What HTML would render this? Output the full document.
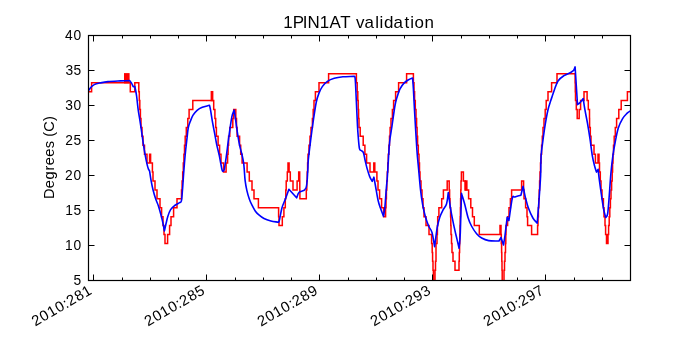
<!DOCTYPE html>
<html><head><meta charset="utf-8"><style>
html,body{margin:0;padding:0;background:#fff;width:700px;height:350px;overflow:hidden}
svg{display:block;will-change:transform}
text{font-family:"Liberation Sans",sans-serif;fill:#000}
.tl{font-size:15.00px}
.xl{font-size:16.00px}
</style></head><body>
<svg width="700" height="350" viewBox="0 0 700 350">
<rect width="700" height="350" fill="#fff"/>
<defs><clipPath id="c"><rect x="88" y="35" width="542" height="245"/></clipPath></defs>
<g clip-path="url(#c)">
<path d="M88.0 91.66H91.6V82.73H130.3V91.66H134.8V82.73H138.8V91.66H139.3V100.59H139.8V109.52H140.4V118.45H141.0V127.38H142.0V136.31H143.0V145.24H144.5V154.17H147.0V163.10H149.6V154.17H150.6V163.10H152.4V172.03H153.0V180.96H155.0V189.89H157.0V198.82H160.0V207.75H161.6V216.68H163.0V225.61H164.0V234.54H165.0V243.47H167.6V234.54H169.6V225.61H171.0V216.68H173.6V207.75H177.0V198.82H181.5V189.89H182.1V180.96H182.7V172.03H183.3V163.10H183.9V154.17H184.5V145.24H185.2V136.31H186.3V127.38H187.8V118.45H189.1V109.52H192.8V100.59H213.7V109.52H214.9V118.45H215.7V127.38H216.4V136.31H218.1V145.24H219.6V154.17H221.0V163.10H223.6V172.03H226.1V163.10H227.6V154.17H228.1V145.24H228.6V136.31H229.8V127.38H232.8V118.45H233.7V109.52H235.8V118.45H236.5V127.38H237.1V136.31H239.6V145.24H240.7V154.17H242.1V163.10H247.1V172.03H249.3V180.96H252.0V189.89H254.0V198.82H258.4V207.75H278.6V216.68H279.0V225.61H282.3V216.68H283.9V207.75H285.3V198.82H285.8V189.89H286.2V180.96H287.3V172.03H288.0V163.10H289.1V172.03H290.3V180.96H293.0V189.89H297.1V180.96H298.7V172.03H299.7V180.96H299.8V189.89H299.9V198.82H306.3V189.89H306.8V180.96H307.2V172.03H307.6V163.10H308.0V154.17H309.0V145.24H310.0V136.31H311.0V127.38H312.4V118.45H313.2V109.52H314.0V100.59H315.4V91.66H319.0V82.73H328.6V73.80H356.4V82.73H357.2V91.66H357.8V100.59H358.2V109.52H358.6V118.45H359.0V127.38H360.2V136.31H363.2V145.24H364.9V154.17H366.6V163.10H370.0V172.03H373.8V163.10H374.8V172.03H376.9V180.96H378.0V189.89H379.6V198.82H381.6V207.75H383.6V216.68H385.6V207.75H386.0V198.82H386.4V189.89H386.8V180.96H387.3V172.03H387.8V163.10H388.3V154.17H388.9V145.24H389.5V136.31H390.1V127.38H391.0V118.45H392.4V109.52H393.6V100.59H395.6V91.66H398.6V82.73H406.6V73.80H413.4V82.73H414.0V91.66H414.6V100.59H415.3V109.52H416.0V118.45H416.6V127.38H417.1V136.31H417.6V145.24H418.3V154.17H419.0V163.10H419.5V172.03H420.0V180.96H421.0V189.89H422.0V198.82H423.0V207.75H424.0V216.68H426.0V225.61H429.0V234.54H431.6V243.47H432.2V252.40H432.6V261.33H433.0V270.26H433.4V288.12H435.0V270.26H435.5V261.33H436.0V243.47H437.0V234.54H437.4V225.61H437.7V216.68H438.9V207.75H441.7V198.82H443.4V189.89H447.2V180.96H449.2V189.89H449.6V198.82H450.0V207.75H450.6V216.68H450.8V225.61H451.0V234.54H451.5V243.47H452.0V252.40H453.0V261.33H455.0V270.26H459.0V261.33H459.3V252.40H459.6V243.47H459.8V234.54H460.0V225.61H460.2V216.68H460.4V207.75H460.6V198.82H460.8V189.89H461.0V180.96H461.4V172.03H463.4V180.96H465.2V189.89H468.6V198.82H470.8V207.75H472.5V216.68H474.3V225.61H479.3V234.54H500.0V225.61H501.0V234.54H501.3V243.47H501.6V252.40H501.8V261.33H502.0V270.26H502.2V288.12H504.0V270.26H504.5V261.33H505.0V252.40H505.5V243.47H505.8V234.54H506.0V225.61H507.6V216.68H509.0V207.75H510.4V198.82H511.6V189.89H521.6V180.96H523.6V189.89H524.0V198.82H525.6V207.75H527.0V216.68H527.6V225.61H531.6V234.54H537.6V225.61H538.0V216.68H538.4V207.75H538.8V198.82H539.2V189.89H539.6V180.96H540.0V172.03H540.5V163.10H541.0V154.17H541.6V145.24H542.3V136.31H543.0V127.38H544.0V118.45H545.2V109.52H546.2V100.59H548.0V91.66H551.6V82.73H557.0V73.80H575.1V82.73H575.3V91.66H575.5V100.59H576.3V109.52H577.2V118.45H579.2V109.52H580.6V100.59H584.0V91.66H587.1V100.59H588.3V109.52H589.5V118.45H589.6V127.38H590.3V136.31H591.0V145.24H594.0V154.17H595.4V163.10H598.0V154.17H599.0V163.10H599.5V172.03H600.3V180.96H601.0V189.89H602.0V198.82H603.4V207.75H604.0V216.68H605.0V225.61H605.6V234.54H606.5V243.47H608.0V234.54H608.6V225.61H609.2V216.68H609.8V207.75H610.4V198.82H611.0V189.89H611.6V180.96H612.2V172.03H612.6V163.10H613.0V154.17H613.5V145.24H614.2V136.31H615.3V127.38H616.6V118.45H618.8V109.52H621.2V100.59H627.4V91.66H632.0" fill="none" stroke="#f00" stroke-width="1.5" stroke-linejoin="miter"/>
<rect x="124.0" y="73.10" width="5.6" height="10.33" fill="#f00"/><rect x="210.6" y="90.96" width="2.8" height="10.33" fill="#f00"/><rect x="464.6" y="180.26" width="3.0" height="10.33" fill="#f00"/>
<path d="M87.00 92.00C87.53 91.50 87.93 91.30 88.60 90.50C89.27 89.70 90.05 88.18 91.00 87.20C91.95 86.22 92.80 85.30 94.30 84.60C95.80 83.90 97.72 83.50 100.00 83.00C102.28 82.50 104.62 81.95 108.00 81.60C111.38 81.25 116.68 81.07 120.30 80.90C123.92 80.73 126.57 80.70 129.70 80.60C130.30 81.47 130.92 82.20 131.50 83.20C132.08 84.20 132.63 85.47 133.20 86.60C133.77 86.60 134.33 86.60 134.90 86.60C135.47 89.73 136.05 92.10 136.60 96.00C137.15 99.90 137.65 105.95 138.20 110.00C138.75 114.05 139.32 116.58 139.90 120.30C140.48 124.02 141.12 128.30 141.70 132.30C142.28 136.30 142.83 140.58 143.40 144.30C143.97 148.02 144.47 151.17 145.10 154.60C145.73 158.03 146.62 162.42 147.20 164.90C147.78 167.38 148.20 168.45 148.60 169.50C149.00 170.55 149.20 169.43 149.60 171.20C150.00 172.97 150.43 177.02 151.00 180.10C151.57 183.18 152.20 186.50 153.00 189.70C153.80 192.90 154.88 196.55 155.80 199.30C156.72 202.05 157.63 203.57 158.50 206.20C159.37 208.83 160.25 212.25 161.00 215.10C161.75 217.95 162.43 220.67 163.00 223.30C163.57 225.93 163.93 228.37 164.40 230.90C164.87 228.83 165.23 227.10 165.80 224.70C166.37 222.30 167.00 219.02 167.80 216.50C168.60 213.98 169.45 211.43 170.60 209.60C171.75 207.77 173.22 206.65 174.70 205.50C176.18 204.35 178.38 203.47 179.50 202.70C180.62 201.93 180.90 203.07 181.40 200.90C181.90 198.73 182.13 194.18 182.50 189.70C182.87 185.22 183.15 179.85 183.60 174.00C184.05 168.15 184.65 160.40 185.20 154.60C185.75 148.80 186.38 143.72 186.90 139.20C187.42 134.68 187.73 130.47 188.30 127.50C188.87 124.53 189.53 123.42 190.30 121.40C191.07 119.38 191.77 117.25 192.90 115.40C194.03 113.55 195.53 111.65 197.10 110.30C198.67 108.95 200.23 108.13 202.30 107.30C204.37 106.47 207.10 105.97 209.50 105.30C209.87 106.97 210.08 107.40 210.60 110.30C211.12 113.20 211.92 118.80 212.60 122.70C213.28 126.60 214.02 130.05 214.70 133.70C215.38 137.35 215.93 140.93 216.70 144.60C217.47 148.27 218.43 151.58 219.30 155.70C220.17 159.82 221.30 166.68 221.90 169.30C222.50 171.92 222.57 170.70 222.90 171.40C223.37 170.70 223.72 171.92 224.30 169.30C224.88 166.68 225.68 160.82 226.40 155.70C227.12 150.58 227.70 145.02 228.60 138.60C229.50 132.18 230.87 121.95 231.80 117.20C232.73 112.45 233.40 112.47 234.20 110.10C234.80 114.30 235.37 118.32 236.00 122.70C236.63 127.08 237.40 132.63 238.00 136.40C238.60 140.17 238.95 142.32 239.60 145.30C240.25 148.28 241.23 151.37 241.90 154.30C242.57 157.23 243.20 160.28 243.60 162.90C244.00 165.52 244.05 167.10 244.30 170.00C244.55 172.90 244.67 176.87 245.10 180.30C245.53 183.73 246.18 187.45 246.90 190.60C247.62 193.75 248.55 196.77 249.40 199.20C250.25 201.63 251.00 203.20 252.00 205.20C253.00 207.20 254.25 209.58 255.40 211.20C256.55 212.82 257.47 213.68 258.90 214.90C260.33 216.12 262.00 217.50 264.00 218.50C266.00 219.50 268.47 220.27 270.90 220.90C273.33 221.53 276.03 221.83 278.60 222.30C278.90 221.43 278.93 222.13 279.50 219.70C280.07 217.27 281.08 210.98 282.00 207.70C282.92 204.42 283.85 203.08 285.00 200.00C286.15 196.92 287.60 192.80 288.90 189.20C291.47 192.07 294.03 194.93 296.60 197.80C297.47 195.97 297.63 193.93 299.20 192.30C300.77 190.67 304.57 191.72 306.00 188.00C307.43 184.28 307.42 174.67 307.80 170.00C308.18 165.33 307.83 164.90 308.30 160.00C308.77 155.10 309.75 147.27 310.60 140.60C311.45 133.93 312.45 126.43 313.40 120.00C314.35 113.57 315.38 106.43 316.30 102.00C317.22 97.57 317.90 95.97 318.90 93.40C319.90 90.83 320.88 88.60 322.30 86.60C323.72 84.60 325.40 82.78 327.40 81.40C329.40 80.02 331.72 79.07 334.30 78.30C336.88 77.53 339.62 77.13 342.90 76.80C346.18 76.47 350.30 76.47 354.00 76.30C354.40 77.17 354.82 74.90 355.20 78.90C355.58 82.90 355.92 92.45 356.30 100.30C356.68 108.15 357.18 120.00 357.50 126.00C357.82 132.00 357.88 132.58 358.20 136.30C358.52 140.02 358.92 145.93 359.40 148.30C359.88 150.67 360.43 149.78 361.10 150.50C361.77 151.22 362.73 150.97 363.40 152.60C364.07 154.23 364.47 157.58 365.10 160.30C365.73 163.02 366.43 166.18 367.20 168.90C367.97 171.62 368.87 174.52 369.70 176.60C370.53 178.68 371.37 179.80 372.20 181.40C372.77 180.00 373.33 178.60 373.90 177.20C374.43 180.13 374.82 182.20 375.50 186.00C376.18 189.80 377.15 196.23 378.00 200.00C378.85 203.77 379.68 205.88 380.60 208.60C381.52 211.32 382.53 213.73 383.50 216.30C383.97 213.17 384.45 211.33 384.90 206.90C385.35 202.47 385.78 194.85 386.20 189.70C386.62 184.55 386.85 183.75 387.40 176.00C387.95 168.25 388.73 151.53 389.50 143.20C390.27 134.87 391.10 132.20 392.00 126.00C392.90 119.80 394.05 110.85 394.90 106.00C395.75 101.15 396.25 99.75 397.10 96.90C397.95 94.05 398.85 91.20 400.00 88.90C401.15 86.60 402.57 84.63 404.00 83.10C405.43 81.57 407.17 80.55 408.60 79.70C410.03 78.85 411.27 78.57 412.60 78.00C412.87 81.63 413.08 83.57 413.40 88.90C413.72 94.23 413.92 99.82 414.50 110.00C415.08 120.18 416.22 140.18 416.90 150.00C417.58 159.82 418.00 162.28 418.60 168.90C419.20 175.52 419.83 183.80 420.50 189.70C421.17 195.60 421.82 199.92 422.60 204.30C423.38 208.68 424.20 212.38 425.20 216.00C426.20 219.62 427.47 223.25 428.60 226.00C429.73 228.75 431.00 229.07 432.00 232.50C433.00 235.93 433.73 241.90 434.60 246.60C435.47 240.30 436.35 232.57 437.20 227.70C438.05 222.83 438.70 220.40 439.70 217.40C440.70 214.40 442.05 211.98 443.20 209.70C444.35 207.42 445.75 206.55 446.60 203.70C447.45 200.85 447.73 196.30 448.30 192.60C449.17 198.60 449.90 204.75 450.90 210.60C451.90 216.45 453.30 222.98 454.30 227.70C455.30 232.42 456.10 235.47 456.90 238.90C457.70 242.33 458.37 245.17 459.10 248.30C459.50 243.17 459.90 242.05 460.30 232.90C460.70 223.75 461.10 206.57 461.50 193.40C462.53 196.83 463.52 199.70 464.60 203.70C465.68 207.70 466.85 213.68 468.00 217.40C469.15 221.12 470.07 223.28 471.50 226.00C472.93 228.72 474.90 231.70 476.60 233.70C478.30 235.70 479.70 236.85 481.70 238.00C483.70 239.15 485.72 240.10 488.60 240.60C491.48 241.10 495.53 240.87 499.00 241.00C499.67 239.83 500.33 238.67 501.00 237.50C501.83 240.00 502.67 242.50 503.50 245.00C503.97 242.00 504.28 240.63 504.90 236.00C505.52 231.37 506.43 223.47 507.20 217.20C507.77 218.33 508.33 219.47 508.90 220.60C510.03 213.17 511.30 202.25 512.30 198.30C513.30 194.35 513.47 197.42 514.90 196.90C516.33 196.38 518.90 195.77 520.90 195.20C521.63 192.23 522.37 189.27 523.10 186.30C523.80 189.73 524.28 192.88 525.20 196.60C526.12 200.32 527.32 205.03 528.60 208.60C529.88 212.17 531.47 215.57 532.90 218.00C534.33 220.43 535.77 221.47 537.20 223.20C537.77 216.03 538.33 209.57 538.90 201.70C539.47 193.83 540.23 183.62 540.60 176.00C540.97 168.38 540.72 161.90 541.10 156.00C541.48 150.10 542.18 146.03 542.90 140.60C543.62 135.17 544.55 128.55 545.40 123.40C546.25 118.25 547.13 113.42 548.00 109.70C548.87 105.98 549.88 103.38 550.60 101.10C551.32 98.82 551.73 97.68 552.30 96.00C552.87 94.32 553.05 93.50 554.00 91.00C554.95 88.50 556.33 83.57 558.00 81.00C559.67 78.43 561.82 77.05 564.00 75.60C566.18 74.15 569.48 73.18 571.10 72.30C572.72 71.42 573.03 71.20 573.70 70.30C574.37 69.40 574.63 68.03 575.10 66.90C575.50 73.17 575.90 79.42 576.30 85.70C576.70 91.98 577.10 98.30 577.50 104.60C578.23 104.03 578.75 103.90 579.70 102.90C580.65 101.90 582.03 100.03 583.20 98.60C583.77 102.30 584.18 105.57 584.90 109.70C585.62 113.83 586.65 118.53 587.50 123.40C588.35 128.27 589.20 133.53 590.00 138.90C590.80 144.27 591.57 151.22 592.30 155.60C593.03 159.98 593.70 162.45 594.40 165.20C595.10 167.95 595.80 169.80 596.50 172.10C597.03 171.17 597.57 170.23 598.10 169.30C598.47 172.50 598.67 174.78 599.20 178.90C599.73 183.02 600.57 188.98 601.30 194.00C602.03 199.02 602.87 205.08 603.60 209.00C604.33 212.92 605.00 214.67 605.70 217.50C606.33 216.33 607.05 217.08 607.60 214.00C608.15 210.92 608.45 205.77 609.00 199.00C609.55 192.23 610.25 180.63 610.90 173.40C611.55 166.17 612.18 160.83 612.90 155.60C613.62 150.37 614.30 146.60 615.20 142.00C616.10 137.40 617.07 131.90 618.30 128.00C619.53 124.10 621.17 121.03 622.60 118.60C624.03 116.17 625.67 114.63 626.90 113.40C628.13 112.17 629.15 111.68 630.00 111.20C630.85 110.72 631.33 110.73 632.00 110.50" fill="none" stroke="#00f" stroke-width="1.6" stroke-linejoin="round"/>
</g>
<path d="M88.5 280.5h6M630.5 280.5h-6M88.5 245.5h6M630.5 245.5h-6M88.5 210.5h6M630.5 210.5h-6M88.5 175.5h6M630.5 175.5h-6M88.5 140.5h6M630.5 140.5h-6M88.5 105.5h6M630.5 105.5h-6M88.5 70.5h6M630.5 70.5h-6M88.5 35.5h6M630.5 35.5h-6M93.5 280.5v-6M93.5 35.5v6M122.5 280.5v-3M122.5 35.5v3M150.5 280.5v-3M150.5 35.5v3M178.5 280.5v-3M178.5 35.5v3M206.5 280.5v-6M206.5 35.5v6M235.5 280.5v-3M235.5 35.5v3M263.5 280.5v-3M263.5 35.5v3M291.5 280.5v-3M291.5 35.5v3M319.5 280.5v-6M319.5 35.5v6M348.5 280.5v-3M348.5 35.5v3M376.5 280.5v-3M376.5 35.5v3M404.5 280.5v-3M404.5 35.5v3M432.5 280.5v-6M432.5 35.5v6M461.5 280.5v-3M461.5 35.5v3M489.5 280.5v-3M489.5 35.5v3M517.5 280.5v-3M517.5 35.5v3M545.5 280.5v-6M545.5 35.5v6M574.5 280.5v-3M574.5 35.5v3M602.5 280.5v-3M602.5 35.5v3" stroke="#000" stroke-width="1" fill="none"/>
<rect x="88.5" y="35.5" width="542.0" height="245.0" fill="none" stroke="#000" stroke-width="1.2"/>
<text x="283.30 292.63 302.85 307.42 319.82 329.53 340.37 350.43 356.01 364.57 375.13 379.58 383.95 393.42 404.38 410.26 414.54 424.54" y="27.60" style="font-size:16.95px">1PIN1AT validation</text>
<text x="73.61" y="284.90" style="font-size:13.80px">5</text><text x="65.04 73.39" y="249.90" style="font-size:13.80px">10</text><text x="65.32 73.61" y="214.90" style="font-size:13.80px">15</text><text x="64.94 73.39" y="179.90" style="font-size:13.80px">20</text><text x="65.22 73.61" y="144.90" style="font-size:13.80px">25</text><text x="65.13 73.39" y="109.90" style="font-size:13.80px">30</text><text x="65.41 73.61" y="74.90" style="font-size:13.80px">35</text><text x="65.12 73.39" y="39.90" style="font-size:13.80px">40</text>
<g transform="translate(54.00 157.55) rotate(-90)"><text x="-41.41 -30.60 -22.05 -12.83 -7.59 0.93 9.28 16.44 20.74 25.73 36.56" y="0.00" style="font-size:14.60px">Degrees (C)</text></g>
<g transform="translate(35.92 326.09) rotate(-30)"><text x="-0.88 8.22 17.05 26.03 34.91 39.47 48.56 57.39" y="0.00" style="font-size:14.80px">2010:281</text></g><g transform="translate(148.86 326.12) rotate(-30)"><text x="-0.88 8.22 17.05 26.03 34.91 39.47 48.56 57.42" y="0.00" style="font-size:14.80px">2010:285</text></g><g transform="translate(261.65 326.24) rotate(-30)"><text x="-0.88 8.22 17.05 26.03 34.91 39.47 48.56 57.43" y="0.00" style="font-size:14.80px">2010:289</text></g><g transform="translate(374.77 326.17) rotate(-30)"><text x="-0.88 8.22 17.05 26.03 34.91 39.47 48.52 57.49" y="0.00" style="font-size:14.80px">2010:293</text></g><g transform="translate(487.84 326.13) rotate(-30)"><text x="-0.88 8.22 17.05 26.03 34.91 39.47 48.52 57.44" y="0.00" style="font-size:14.80px">2010:297</text></g>
</svg>
</body></html>
